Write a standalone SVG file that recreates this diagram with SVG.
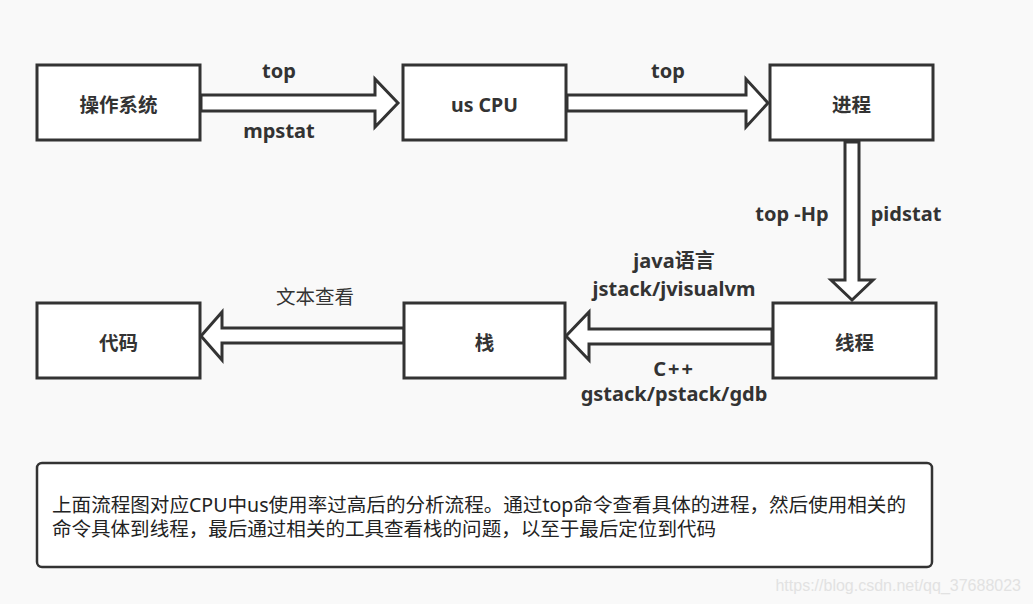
<svg xmlns="http://www.w3.org/2000/svg" width="1033" height="604" viewBox="0 0 1033 604">
<style>
.box{fill:#fff;stroke:#333;stroke-width:3}
.arr{fill:#fff;stroke:#333;stroke-width:3;stroke-linejoin:miter}
.lbl{font-family:"Noto Sans","Noto Sans CJK SC",sans-serif;font-weight:bold;font-size:19.5px;fill:#333;text-anchor:middle;dominant-baseline:central}
.elbl{font-family:"Noto Sans","Noto Sans CJK SC",sans-serif;font-weight:bold;font-size:20px;fill:#333;text-anchor:middle;dominant-baseline:central}
.note{font-family:"Noto Sans","Noto Sans CJK SC",sans-serif;font-size:19px;fill:#222}
</style>
<rect width="1033" height="604" fill="#f9f9f9"/>
<g id="connectors">
<polygon class="arr" points="201,95 375,95 375,79 398,103 375,127 375,111 201,111"/>
<polygon class="arr" points="567,95 746,95 746,79 768,103 746,127 746,111 567,111"/>
<polygon class="arr" points="845,142 859,142 859,280 873,280 852,300 831,280 845,280"/>
<polygon class="arr" points="772,329 589,329 589,312 566,336 589,360 589,344 772,344"/>
<polygon class="arr" points="404,328 222,328 222,312 201,336 222,360 222,343 404,343"/>
<text class="elbl" x="279" y="70">top</text>
<text class="elbl" x="279" y="130">mpstat</text>
<text class="elbl" x="668" y="70">top</text>
<text class="elbl" x="792" y="213">top -Hp</text>
<text class="elbl" x="906" y="213">pidstat</text>
<text class="elbl" x="674" y="260">java语言</text>
<text class="elbl" x="674" y="288">jstack/jvisualvm</text>
<text class="elbl" x="674" y="368" letter-spacing="2">C++</text>
<text class="elbl" x="674" y="393">gstack/pstack/gdb</text>
<text class="elbl" x="315" y="296" style="font-weight:normal;font-size:19.5px">文本查看</text>
</g>
<g id="os"><rect class="box" x="37" y="65" width="163" height="75"/><text class="lbl" x="118.5" y="104">操作系统</text></g>
<g id="uscpu"><rect class="box" x="403" y="65" width="163" height="75"/><text class="lbl" x="484.5" y="104">us CPU</text></g>
<g id="process"><rect class="box" x="770" y="65" width="163" height="75"/><text class="lbl" x="851.5" y="104">进程</text></g>
<g id="thread"><rect class="box" x="773" y="303" width="163" height="75"/><text class="lbl" x="854.5" y="342">线程</text></g>
<g id="stack"><rect class="box" x="404" y="303" width="161" height="75"/><text class="lbl" x="484.5" y="342">栈</text></g>
<g id="code"><rect class="box" x="37" y="303" width="163" height="75"/><text class="lbl" x="118.5" y="342">代码</text></g>
<g id="note">
<rect x="37" y="463" width="895" height="104" rx="5" fill="#fff" stroke="#333" stroke-width="2.5"/>
<text class="note" x="52" y="512" textLength="854" lengthAdjust="spacingAndGlyphs">上面流程图对应CPU中us使用率过高后的分析流程。通过top命令查看具体的进程，然后使用相关的</text>
<text class="note" x="52" y="536" textLength="664" lengthAdjust="spacingAndGlyphs">命令具体到线程，最后通过相关的工具查看栈的问题，以至于最后定位到代码</text>
</g>
<text x="1021" y="591" font-family="Liberation Sans, Arial, sans-serif" font-size="16" fill="#e2e2e2" text-anchor="end">https://blog.csdn.net/qq_37688023</text>
</svg>
